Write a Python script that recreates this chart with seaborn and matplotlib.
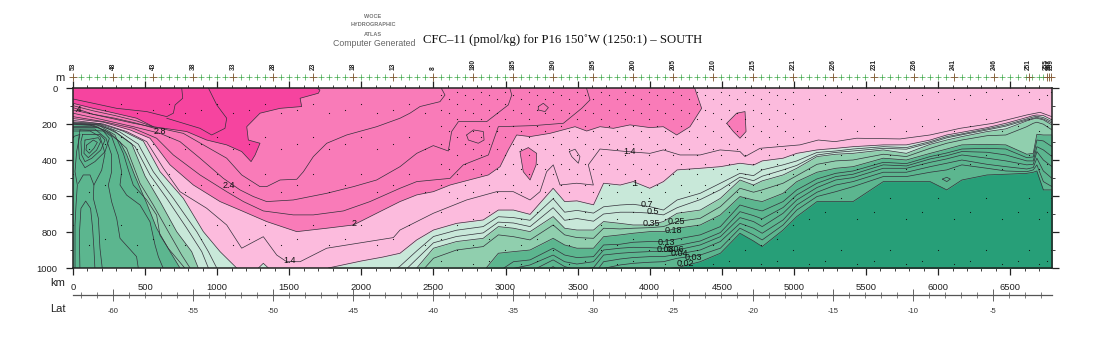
import numpy as np
import seaborn as sns
import matplotlib.pyplot as plt
from matplotlib.ticker import FixedLocator, MultipleLocator

# band colours, high CFC to low CFC
DEEP = "#f6449f"
MID = "#f97bb8"
LIGHT = "#fcbbdd"
PALE = "#c8e8d9"
MEDIUM = "#90cfae"
DARK = "#5cb68f"
DARKEST = "#279f78"
LINE = "#33303a"

# top left contours, km along the section and depth in m
c28_km = [0, 141, 291, 442, 557, 789, 927, 1066, 1170, 1235, 1263, 1297, 1216, 1205, 1297, 1436, 1586, 1575, 1702, 1713, 1690]
c28_m = [85, 113, 140, 168, 215, 242, 289, 316, 353, 409, 372, 307, 289, 215, 140, 113, 103, 57, 29, 11, 0]
c30a_km = [754, 761, 708, 696, 650, 511, 303, 141, 0]
c30a_m = [0, 57, 94, 140, 159, 131, 113, 85, 61]
c30b_km = [939, 997, 1066, 1054, 962, 881, 765, 650]
c30b_m = [0, 94, 168, 224, 261, 224, 196, 168]
c34a_km = [0, 141, 291, 442, 557]
c34a_m = [98, 127, 153, 183, 215]
c34b_km = [0, 141, 291, 442, 580]
c34b_m = [109, 146, 168, 196, 227]

c26_km = [0, 211, 419, 604, 765, 904, 1066, 1170, 1297, 1343, 1436, 1552, 1598, 1667, 1760, 1898, 2106, 2268, 2337, 2407, 2545, 2580, 2557, 2555]
c26_m = [122, 159, 196, 224, 252, 316, 390, 483, 548, 548, 511, 507, 465, 381, 307, 261, 215, 168, 140, 103, 76, 39, 5, 0]
c24_km = [0, 211, 419, 604, 742, 881, 1043, 1158, 1251, 1343, 1528, 1760, 1945, 2106, 2268, 2384, 2499, 2603, 2626, 2673, 2869, 3019, 3043, 3031, 3031]
c24_m = [140, 177, 215, 252, 298, 390, 502, 566, 603, 631, 622, 585, 548, 511, 437, 363, 320, 350, 242, 187, 187, 94, 39, 5, 0]
c22_km = [0, 211, 419, 580, 696, 881, 1066, 1182, 1320, 1528, 1667, 1875, 2060, 2268, 2384, 2615, 2707, 2881, 2950, 3193, 3401, 3528, 3586, 3563, 3560]
c22_m = [159, 187, 224, 279, 372, 483, 576, 631, 683, 705, 705, 683, 631, 557, 520, 502, 427, 372, 215, 209, 196, 113, 66, 5, 0]
c20_km = [0, 211, 396, 534, 673, 835, 1020, 1158, 1343, 1552, 1760, 1945, 2106, 2268, 2384, 2499, 2615, 2881, 2962, 3019, 3077, 3170, 3308, 3482, 3563, 3655, 3748, 3863, 4002, 4094, 4187, 4279, 4360, 4314, 4310]
c20_m = [170, 190, 233, 279, 427, 539, 631, 678, 742, 798, 779, 761, 696, 631, 594, 576, 539, 483, 437, 344, 261, 270, 252, 215, 239, 215, 224, 205, 220, 215, 261, 215, 113, 5, 0]
c14_km = [0, 211, 372, 511, 627, 742, 927, 1066, 1170, 1320, 1413, 1482, 1575, 1760, 2222, 2268, 2499, 2730, 2938, 3054, 3170, 3239, 3285, 3331, 3378, 3493, 3609, 3574, 3655, 3840, 4002, 4094, 4210, 4349, 4488, 4626, 4661, 4765, 5042, 5169, 5285, 5435, 5736, 5944, 6152, 6383, 6614, 6707, 6788]
c14_m = [180, 200, 242, 298, 446, 576, 668, 761, 890, 826, 928, 965, 965, 890, 831, 789, 696, 622, 576, 576, 622, 576, 465, 427, 539, 529, 539, 427, 339, 353, 363, 344, 372, 372, 344, 353, 381, 335, 316, 289, 298, 279, 283, 261, 224, 196, 150, 135, 159]

# left green wedge contours
c10l_km = [0, 187, 349, 488, 604, 765, 904, 1020, 1135]
c10l_m = [188, 198, 240, 295, 465, 613, 798, 909, 1000]
c07l_km = [0, 187, 326, 453, 557, 696, 858, 939, 997]
c07l_m = [192, 202, 245, 312, 465, 613, 798, 909, 1000]
c05l_km = [0, 187, 303, 430, 534, 650, 789, 893, 939]
c05l_m = [195, 205, 250, 325, 483, 613, 779, 909, 1000]
c035l_km = [0, 164, 280, 407, 500, 604, 719, 823, 869]
c035l_m = [198, 205, 235, 310, 490, 631, 798, 909, 1000]
c025l_km = [0, 141, 257, 372, 465, 557, 661, 754, 812]
c025l_m = [201, 207, 250, 335, 530, 650, 798, 928, 1000]
c018l_km = [0, 118, 222, 326, 372, 430, 511, 580, 673, 742]
c018l_m = [204, 206, 235, 300, 370, 490, 640, 779, 909, 1000]
w_f_km = [2, 187, 291, 349, 384, 418, 511, 580, 603, 661, 777]
w_f_m = [215, 211, 261, 363, 456, 539, 622, 706, 817, 891, 1002]
w_e_km = [2, 176, 268, 314, 337, 326, 372, 465, 534, 569, 592, 626]
w_e_m = [220, 219, 270, 372, 465, 539, 595, 650, 743, 872, 937, 1002]
w_d_km = [2, 152, 229, 268, 268, 245, 268, 303, 326, 441, 453]
w_d_m = [228, 228, 280, 372, 465, 539, 632, 724, 835, 937, 1002]
w_c_km = [2, 118, 187, 222, 199, 145, 141, 176, 187, 203]
w_c_m = [239, 239, 270, 363, 456, 539, 613, 724, 891, 1002]
w_b_km = [2, 48, 25, 14, 30, 21, 14, 14]
w_b_m = [270, 258, 354, 465, 539, 650, 761, 1002]
arch_a_km = [48, 44, 55, 88, 122, 136, 145, 152]
arch_a_m = [1002, 817, 669, 628, 669, 780, 891, 1002]
arch_b_km = [37, 71, 118, 145]
arch_b_m = [530, 483, 483, 539]
core_a_km = [48, 210, 252, 222, 152, 83, 44, 37, 48]
core_a_m = [233, 239, 280, 354, 409, 443, 391, 298, 233]
core_b_km = [67, 187, 222, 192, 129, 83, 60, 55, 67]
core_b_m = [258, 258, 289, 345, 391, 409, 372, 298, 258]
core_c_km = [83, 176, 192, 164, 106, 76, 83]
core_c_m = [289, 276, 298, 345, 387, 363, 289]
core_d_km = [95, 141, 169, 145, 113, 90, 95]
core_d_m = [317, 289, 302, 335, 363, 344, 317]

# closed patches
isle_a_km = [3100, 3158, 3216, 3212, 3170, 3123, 3100]
isle_a_m = [353, 331, 363, 427, 511, 465, 353]
isle_b_km = [4534, 4603, 4661, 4668, 4626, 4580, 4534]
isle_b_m = [196, 140, 131, 242, 279, 242, 196]
loop_a_km = [2730, 2777, 2846, 2851, 2811, 2742, 2730]
loop_a_m = [261, 233, 242, 289, 307, 289, 261]
loop_b_km = [3227, 3262, 3297, 3274, 3227, 3227]
loop_b_m = [103, 85, 109, 131, 122, 103]
loop_c_km = [3442, 3482, 3516, 3505, 3459, 3442]
loop_c_m = [353, 340, 381, 418, 381, 353]
loop_d_km = [6030, 6060, 6085, 6060, 6030]
loop_d_m = [506, 496, 506, 520, 506]
bump_km = [1286, 1320, 1355]
bump_m = [1000, 974, 1000]

# right hand family, all on one km grid, depths past 1000 m are cut by the axes
right_km = [1770, 2000, 2150, 2268, 2384, 2500, 2660, 2845, 2950, 3055, 3170, 3330, 3410, 3495, 3610, 3680, 3795, 3885, 4000, 4095, 4190, 4350, 4490, 4626, 4720, 4780, 4925, 5020, 5160, 5290, 5410, 5620, 5780, 5945, 6060, 6165, 6340, 6470, 6615, 6660, 6685, 6730, 6790]
r_100 = [1000, 961, 939, 918, 844, 789, 752, 733, 678, 678, 702, 557, 631, 627, 649, 529, 539, 520, 557, 520, 455, 446, 437, 418, 428, 405, 390, 363, 344, 335, 326, 316, 316, 289, 261, 246, 220, 196, 164, 153, 150, 153, 177]
r_070 = [1131, 1094, 1060, 990, 905, 825, 790, 770, 715, 720, 735, 615, 690, 680, 695, 660, 650, 646, 659, 678, 622, 585, 529, 474, 487, 455, 427, 405, 358, 350, 339, 326, 331, 298, 270, 255, 227, 205, 172, 161, 157, 164, 187]
r_050 = [1200, 1160, 1130, 1040, 950, 860, 825, 805, 745, 750, 770, 665, 735, 725, 740, 700, 690, 690, 695, 705, 665, 620, 565, 495, 515, 490, 455, 430, 372, 358, 350, 335, 340, 305, 277, 260, 233, 212, 178, 168, 163, 172, 195]
r_035 = [1250, 1200, 1170, 1090, 1000, 890, 853, 835, 770, 779, 798, 714, 779, 789, 789, 742, 752, 761, 761, 742, 696, 678, 613, 511, 539, 516, 483, 446, 381, 368, 363, 344, 363, 313, 289, 270, 242, 227, 183, 172, 168, 177, 205]
r_025 = [1300, 1260, 1220, 1130, 1050, 946, 900, 881, 816, 826, 844, 761, 816, 831, 835, 779, 783, 779, 776, 770, 742, 724, 659, 557, 579, 566, 529, 487, 424, 405, 400, 368, 381, 335, 307, 289, 265, 261, 215, 196, 190, 201, 233]
r_018 = [1400, 1350, 1300, 1250, 1190, 1131, 1076, 1020, 918, 909, 900, 835, 872, 890, 890, 826, 816, 807, 798, 798, 779, 761, 705, 603, 622, 631, 585, 520, 468, 446, 437, 390, 400, 363, 339, 316, 313, 316, 368, 363, 257, 261, 261]
r_013 = [1300] * 8 + [1020, 965, 955, 890, 928, 942, 937, 872, 868, 857, 853, 853, 839, 816, 770, 650, 672, 683, 631, 566, 505, 474, 461, 413, 420, 381, 361, 339, 335, 339, 387, 383, 289, 294, 326]
r_008 = [1300] * 8 + [1075, 1002, 983, 928, 965, 978, 965, 900, 890, 885, 887, 890, 876, 850, 803, 687, 709, 727, 664, 594, 529, 492, 479, 427, 433, 394, 376, 353, 357, 372, 405, 405, 326, 344, 381]
r_006 = [1300] * 8 + [1131, 1048, 1020, 955, 992, 1011, 998, 928, 918, 913, 909, 909, 900, 872, 826, 720, 742, 770, 696, 622, 553, 511, 498, 446, 446, 413, 394, 372, 390, 405, 427, 424, 353, 400, 437]
r_004 = [1300] * 8 + [1187, 1094, 1066, 992, 1039, 1048, 1039, 965, 950, 942, 937, 937, 924, 900, 853, 752, 779, 807, 733, 650, 579, 539, 520, 468, 468, 437, 418, 400, 424, 437, 450, 442, 390, 461, 502]
r_003 = [1300] * 8 + [1242, 1150, 1113, 1039, 1085, 1094, 1076, 1002, 983, 974, 968, 965, 946, 928, 890, 779, 816, 844, 761, 678, 603, 576, 548, 492, 492, 468, 455, 427, 446, 461, 465, 455, 427, 520, 548]
r_002 = [1300] * 18 + [1011, 1005, 998, 965, 918, 807, 850, 881, 789, 714, 631, 631, 631, 520, 520, 520, 566, 511, 483, 479, 474, 468, 461, 566, 566]

# contour labels
label_text = [".4", "2.8", "2.4", "2", "1.4", "1.4", "1", "0.7", "0.5", "0.35", "0.25", "0.18", "0.13", "0.08", "0.06", "0.04", "0.03", "0.02"]
label_km = [37, 604, 1078, 1952, 1505, 3863, 3898, 3979, 4025, 4014, 4187, 4164, 4118, 4106, 4175, 4206, 4303, 4245]
label_m = [122, 239, 544, 755, 961, 355, 529, 646, 687, 752, 742, 792, 859, 900, 896, 922, 942, 974]

# stations
station_km = [0, 55, 111, 166, 222, 277, 333, 388, 444, 499, 555, 610, 666, 721, 777, 832, 888, 943, 999, 1054, 1110, 1165, 1221, 1276, 1332, 1387, 1443, 1498, 1554, 1609, 1664, 1720, 1775, 1831, 1886, 1942, 1997, 2053, 2108, 2164, 2219, 2275, 2330, 2386, 2441, 2497, 2552, 2608, 2663, 2719, 2774, 2830, 2885, 2941, 2996, 3051, 3107, 3162, 3218, 3273, 3329, 3384, 3440, 3495, 3551, 3606, 3662, 3717, 3773, 3828, 3884, 3939, 3995, 4050, 4106, 4161, 4217, 4272, 4328, 4383, 4438, 4494, 4549, 4605, 4660, 4716, 4771, 4827, 4882, 4938, 4993, 5049, 5104, 5160, 5215, 5270, 5326, 5381, 5437, 5492, 5555, 5610, 5666, 5721, 5777, 5832, 5888, 5943, 5999, 6054, 6109, 6165, 6220, 6276, 6331, 6387, 6442, 6498, 6553, 6609, 6629, 6650, 6700, 6730, 6754, 6768, 6782]
major_km = [0, 277, 555, 832, 1110, 1387, 1664, 1942, 2219, 2497, 2774, 3051, 3329, 3606, 3884, 4161, 4438, 4716, 4993, 5270, 5555, 5832, 6109, 6387, 6629, 6754, 6768, 6782]
major_names = ["53", "48", "43", "38", "33", "28", "23", "18", "13", "8", "180", "185", "190", "195", "200", "205", "210", "215", "221", "226", "231", "236", "241", "246", "251", "255", "257", "259"]

# bottle depths, three casts in turn
cast_a = [20, 90, 170, 270, 370, 480, 610, 760, 900]
cast_b = [40, 120, 210, 310, 420, 540, 690, 840, 960]
cast_c = [60, 140, 240, 340, 450, 580, 730, 870, 980]
casts = [cast_a, cast_b, cast_c]

sns.set_theme(style="white")
plt.rcParams["font.family"] = ["Liberation Sans", "DejaVu Sans"]

fig = plt.figure(figsize=(11, 3.5), dpi=100)
ax = fig.add_axes([73 / 1100, 1 - 268 / 350, 979 / 1100, 180 / 350])
ax.set_facecolor(LIGHT)


def band(km, m, color, corner_m):
    # close a contour against the left edge
    ax.fill(list(km) + [0], list(m) + [corner_m], color=color, lw=0, zorder=1)


def line(km, m, lw=0.5):
    sns.lineplot(x=km, y=m, sort=False, estimator=None, errorbar=None, color=LINE,
                 linewidth=lw, ax=ax, legend=False, zorder=3)


band(c20_km, c20_m, MID, 0)
ax.fill(isle_a_km, isle_a_m, color=MID, lw=0, zorder=1)
ax.fill(isle_b_km, isle_b_m, color=MID, lw=0, zorder=1)
band(c28_km, c28_m, DEEP, 0)
band(c10l_km, c10l_m, PALE, 1000)
band(c035l_km, c035l_m, MEDIUM, 1000)
band(c018l_km, c018l_m, DARK, 1000)
ax.fill(bump_km, bump_m, color=PALE, lw=0, zorder=1)

for vals, col in [(r_100, PALE), (r_035, MEDIUM), (r_018, DARK), (r_002, DARKEST)]:
    ax.fill_between(right_km, vals, 1400, color=col, lw=0, zorder=1)

left_lines = [(c28_km, c28_m), (c30a_km, c30a_m), (c30b_km, c30b_m), (c34a_km, c34a_m), (c34b_km, c34b_m),
              (c26_km, c26_m), (c24_km, c24_m), (c22_km, c22_m), (c20_km, c20_m), (c14_km, c14_m),
              (c10l_km, c10l_m), (c07l_km, c07l_m), (c05l_km, c05l_m), (c035l_km, c035l_m), (c025l_km, c025l_m),
              (c018l_km, c018l_m), (w_f_km, w_f_m), (w_e_km, w_e_m), (w_d_km, w_d_m), (w_c_km, w_c_m),
              (w_b_km, w_b_m), (arch_a_km, arch_a_m), (arch_b_km, arch_b_m), (core_a_km, core_a_m),
              (core_b_km, core_b_m), (core_c_km, core_c_m), (core_d_km, core_d_m),
              (isle_a_km, isle_a_m), (isle_b_km, isle_b_m), (loop_a_km, loop_a_m), (loop_b_km, loop_b_m),
              (loop_c_km, loop_c_m), (loop_d_km, loop_d_m), (bump_km, bump_m)]
for km, m in left_lines:
    line(km, m)
for vals in [r_100, r_070, r_050, r_035, r_025, r_018, r_013, r_008, r_006, r_004, r_003, r_002]:
    line(right_km, vals)

# section break
sns.lineplot(x=[4101, 4101], y=[215, 1000], color=LINE, linewidth=0.5, ax=ax, legend=False, errorbar=None, zorder=3)

# bottle dots
dot_km = []
dot_m = []
for i, km in enumerate(station_km):
    cast = casts[i % 3]
    if 2500 < km < 5000:
        depths = cast[:6] if i % 2 else cast
    elif i % 2 == 0:
        depths = cast[::2] if km > 5000 else cast[1::2]
    else:
        depths = []
    for d in depths:
        dot_km.append(km)
        dot_m.append(d)
sns.scatterplot(x=dot_km, y=dot_m, s=0.7, color="#111111", linewidth=0, ax=ax, legend=False, zorder=4)

for txt, km, m in zip(label_text, label_km, label_m):
    ax.text(km, m, txt, fontsize=6.5, color="#111111", ha="center", va="center", zorder=5)

ax.set_xlim(0, 6790)
ax.set_ylim(1000, 0)
ax.set_xlabel("")
ax.set_ylabel("")
ax.xaxis.set_major_locator(MultipleLocator(500))
ax.xaxis.set_minor_locator(MultipleLocator(100))
ax.yaxis.set_major_locator(MultipleLocator(200))
ax.yaxis.set_minor_locator(MultipleLocator(100))
ax.tick_params(which="major", length=5, width=0.9, color="#222222", direction="out",
               top=True, right=True, bottom=True, left=True, labelsize=6.8, labelcolor="#222222", pad=6)
ax.tick_params(which="minor", length=2.5, width=0.6, color="#222222", direction="out",
               top=True, right=True, bottom=True, left=True)
for s in ax.spines.values():
    s.set_visible(True)
    s.set_linewidth(1.1)
    s.set_color("#222222")
    s.set_zorder(6)

# station crosses above the frame
ax_top = fig.add_axes([73 / 1100, 1 - 80 / 350, 979 / 1100, 6 / 350])
ax_top.set_axis_off()
sns.scatterplot(x=station_km, y=[0] * len(station_km), marker="+", s=14, color="#3fa84a", linewidth=0.5, ax=ax_top, legend=False, clip_on=False)
sns.scatterplot(x=major_km, y=[0] * len(major_km), marker="+", s=40, color="#8a5a3a", linewidth=0.6, ax=ax_top, legend=False, clip_on=False)
ax_top.set_xlim(0, 6790)
ax_top.set_ylim(-1, 1)
for km, name in zip(major_km, major_names):
    ax_top.text(km, 1.7, name, rotation=90, fontsize=4.8, fontweight="bold", color="#222222",
                ha="center", va="bottom", transform=ax_top.get_xaxis_transform(), clip_on=False)

# latitude scale under the km axis
ax_lat = fig.add_axes([73 / 1100, 1 - 295 / 350, 979 / 1100, 1 / 350])
ax_lat.set_facecolor("none")
for side in ["top", "left", "right"]:
    ax_lat.spines[side].set_visible(False)
ax_lat.spines["bottom"].set_visible(True)
ax_lat.spines["bottom"].set_color("#555555")
ax_lat.spines["bottom"].set_linewidth(0.9)
ax_lat.set_xlim(-62.5, -62.5 + 979 / 16)
ax_lat.set_yticks([])
ax_lat.xaxis.set_major_locator(FixedLocator([-60, -55, -50, -45, -40, -35, -30, -25, -20, -15, -10, -5]))
ax_lat.xaxis.set_minor_locator(MultipleLocator(1))
ax_lat.set_xticklabels(["-60", "-55", "-50", "-45", "-40", "-35", "-30", "-25", "-20", "-15", "-10", "-5"])
ax_lat.tick_params(axis="x", which="major", length=9, width=0.7, color="#666666", direction="inout", bottom=True, labelsize=5.5, labelcolor="#333333", pad=5)
ax_lat.tick_params(axis="x", which="minor", length=5, width=0.6, color="#666666", direction="inout", bottom=True)

# header and side names
fig.text(373 / 1100, 1 - 16.5 / 350, "WOCE", fontsize=4, fontweight="bold", color="#777777", ha="center", va="center")
fig.text(373 / 1100, 1 - 25 / 350, "HYDROGRAPHIC", fontsize=4, fontweight="bold", color="#777777", ha="center", va="center")
fig.text(373 / 1100, 1 - 34 / 350, "ATLAS", fontsize=4, fontweight="bold", color="#777777", ha="center", va="center")
fig.text(333 / 1100, 1 - 43 / 350, "Computer Generated", fontsize=6.3, color="#666666", ha="left", va="center")
fig.text(423 / 1100, 1 - 40 / 350, "CFC\u201311 (pmol/kg) for P16 150\u02daW (1250:1) \u2013 SOUTH", fontsize=9.2, color="#111111",
         family=["Liberation Serif", "DejaVu Serif"], ha="left", va="center")
fig.text(60 / 1100, 1 - 78 / 350, "m", fontsize=8, color="#222222", ha="center", va="center")
fig.text(58 / 1100, 1 - 283.5 / 350, "km", fontsize=8, color="#222222", ha="center", va="center")
fig.text(58 / 1100, 1 - 309 / 350, "Lat", fontsize=8, color="#222222", ha="center", va="center")

fig.savefig("out.png", dpi=100, facecolor="white")
